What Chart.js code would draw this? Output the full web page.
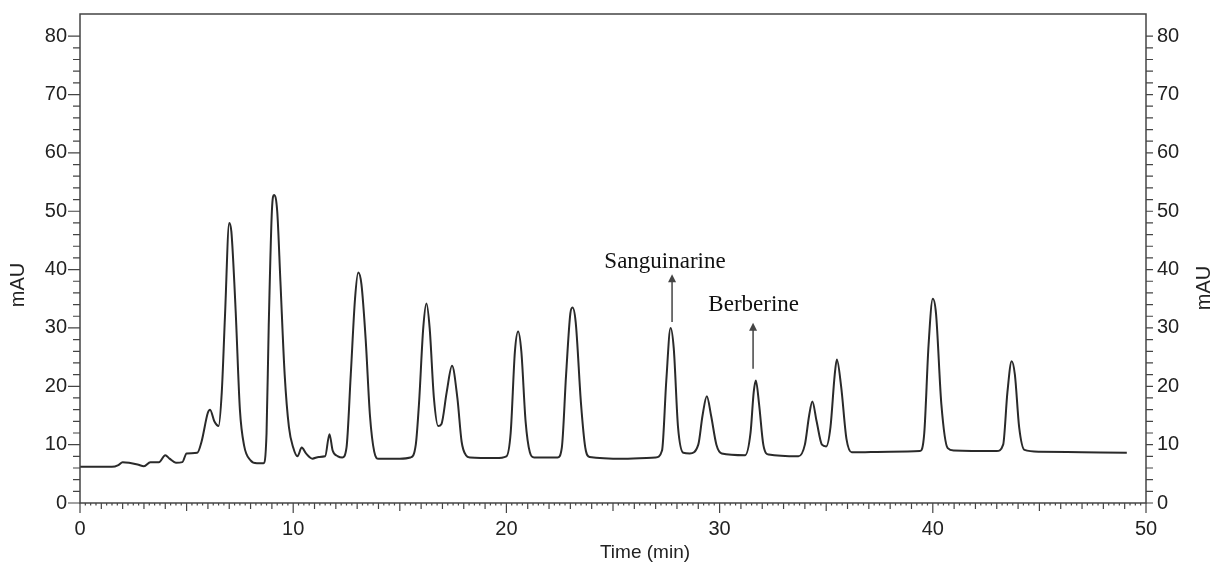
<!DOCTYPE html>
<html>
<head>
<meta charset="utf-8">
<script src="https://cdn.jsdelivr.net/npm/chart.js@4"></script>
<style>
  html, body { margin: 0; padding: 0; background: #fff; }
  canvas { display: block; }
</style>
</head>
<body>
<canvas id="crom" width="1213" height="565"></canvas>
<script>
const times = [
  0, 1.5, 1.8, 2.0, 2.3, 2.7, 3.0, 3.3, 3.7, 4.0, 4.2, 4.5, 4.8, 5.0, 5.5, 5.7, 6.0, 6.1, 6.3, 6.5,
  6.65, 6.8, 7.0, 7.1, 7.3, 7.5, 7.7, 8.0, 8.3, 8.6, 8.75, 8.85, 9.0, 9.1, 9.25, 9.4, 9.6, 9.8, 10.0,
  10.2, 10.4, 10.6, 10.9, 11.2, 11.5, 11.7, 11.85, 12.1, 12.3, 12.5, 12.7, 12.9, 13.05, 13.2, 13.4,
  13.6, 13.8, 14.0, 15.0, 15.5, 15.75, 15.9, 16.1, 16.25, 16.4, 16.6, 16.8, 16.95, 17.2, 17.45, 17.7,
  17.9, 18.1, 18.3, 19.5, 20.0, 20.2, 20.4, 20.55, 20.7, 20.9, 21.1, 21.3, 22.4, 22.6, 22.8, 23.0,
  23.1, 23.25, 23.5, 23.7, 23.9, 25.5, 27.0, 27.3, 27.5, 27.7, 27.85, 28.05, 28.3, 28.6, 29.0, 29.2,
  29.4, 29.6, 29.85, 30.1, 31.2, 31.45, 31.6, 31.7, 31.85, 32.05, 32.3, 33.7, 34.0, 34.2, 34.35,
  34.55, 34.8, 35.0, 35.2, 35.4, 35.5, 35.7, 35.95, 36.2, 38.0, 39.4, 39.6, 39.8, 40.0, 40.15, 40.4,
  40.7, 41.0, 43.0, 43.3, 43.5, 43.7, 43.85, 44.05, 44.3, 45.0, 47.0, 49.1
];
const absorbance = [
  6.2, 6.2, 6.5, 7.0, 6.9, 6.6, 6.3, 7.0, 7.0, 8.2, 7.6, 6.9, 7.0, 8.5, 8.6, 10.5, 15.5, 16.0, 14.0, 13.2,
  19, 32, 48, 46.5, 33, 16, 9.8, 7.3, 6.8, 6.8, 12, 30, 50, 52.8, 50, 38, 22, 13, 9.5,
  8.0, 9.5, 8.5, 7.6, 7.9, 8.0, 11.8, 9.0, 8.0, 7.8, 9.5, 22, 35, 39.5, 37.5, 28,
  15, 8.8, 7.6, 7.6, 7.8, 10, 17, 30, 34.2, 30, 18, 13.2, 13.5, 19, 23.5, 18,
  10.5, 8.2, 7.8, 7.7, 8.0, 12, 26, 29.4, 26, 14, 8.7, 7.8, 7.8, 9.5, 22, 32.5,
  33.5, 31, 17, 9.5, 7.9, 7.6, 7.8, 9, 21, 30, 26.5, 13, 8.6, 8.5, 10, 15,
  18.3, 15, 10, 8.5, 8.2, 12, 19, 21, 17, 10, 8.3, 8.0, 10, 15, 17.4,
  14, 10, 9.7, 13, 22, 24.6, 20, 11, 8.7, 8.8, 8.9, 12, 27, 35, 32.5, 17,
  9.4, 9.0, 8.9, 10, 19, 24.3, 22, 13, 9.1, 8.8, 8.7, 8.6
];

// etiquetas de ejes
const xTicks = [0, 10, 20, 30, 40, 50];
const yTicks = [0, 10, 20, 30, 40, 50, 60, 70, 80];

// anotaciones: texto, posición de la flecha (x, y base, y punta), posición del texto
const labelNames = ['Sanguinarine', 'Berberine'];
const arrowX = [27.77, 31.57];
const arrowFrom = [31.0, 23.0];
const arrowTo = [39.2, 30.9];
const labelX = [27.44, 31.6];
const labelY = [40.3, 32.9];

const ink = '#222';

const marcoPlugin = {
  id: 'marco',
  afterDraw(chart) {
    const ctx = chart.ctx;
    const a = chart.chartArea;
    const sx = chart.scales.x;
    const sy = chart.scales.y;
    ctx.save();
    // marco
    ctx.strokeStyle = '#444';
    ctx.lineWidth = 1.5;
    ctx.strokeRect(a.left, a.top, a.right - a.left, a.bottom - a.top);

    // marcas del eje x
    ctx.lineWidth = 1.2;
    ctx.beginPath();
    for (let i = 0; i <= 200; i++) {
      const t = i / 4;
      const px = sx.getPixelForValue(t);
      let len = 2.5;
      if (i % 40 === 0) len = 10;
      else if (i % 20 === 0) len = 8;
      else if (i % 4 === 0) len = 6;
      ctx.moveTo(px, a.bottom);
      ctx.lineTo(px, a.bottom + len);
    }
    // marcas de los ejes y
    for (let v = 0; v <= 80; v += 2) {
      const py = sy.getPixelForValue(v);
      const len = v % 10 === 0 ? 12 : 7;
      ctx.moveTo(a.left, py);
      ctx.lineTo(a.left - len, py);
      ctx.moveTo(a.right, py);
      ctx.lineTo(a.right + 7, py);
    }
    ctx.stroke();

    // títulos de los ejes
    ctx.fillStyle = ink;
    ctx.font = '20px "Liberation Sans", Arial, sans-serif';
    ctx.textAlign = 'center';
    ctx.textBaseline = 'middle';
    ctx.save();
    ctx.translate(18, 285);
    ctx.rotate(-Math.PI / 2);
    ctx.fillText('mAU', 0, 0);
    ctx.restore();
    ctx.save();
    ctx.translate(1204, 288);
    ctx.rotate(-Math.PI / 2);
    ctx.fillText('mAU', 0, 0);
    ctx.restore();
    ctx.font = '19px "Liberation Sans", Arial, sans-serif';
    ctx.fillText('Time (min)', 645, 553);

    // flechas y nombres de compuestos
    ctx.strokeStyle = '#444';
    ctx.fillStyle = '#444';
    ctx.lineWidth = 1.5;
    for (let k = 0; k < labelNames.length; k++) {
      const ax = sx.getPixelForValue(arrowX[k]);
      const y0 = sy.getPixelForValue(arrowFrom[k]);
      const y1 = sy.getPixelForValue(arrowTo[k]);
      ctx.beginPath();
      ctx.moveTo(ax, y0);
      ctx.lineTo(ax, y1 + 6);
      ctx.stroke();
      ctx.beginPath();
      ctx.moveTo(ax, y1);
      ctx.lineTo(ax - 4, y1 + 8);
      ctx.lineTo(ax + 4, y1 + 8);
      ctx.closePath();
      ctx.fill();
    }
    ctx.fillStyle = '#111';
    ctx.font = '23px "Liberation Serif", "Times New Roman", serif';
    ctx.textBaseline = 'alphabetic';
    for (let k = 0; k < labelNames.length; k++) {
      ctx.fillText(labelNames[k], sx.getPixelForValue(labelX[k]), sy.getPixelForValue(labelY[k]));
    }
    ctx.restore();
  }
};

const tickFont = { family: '"Liberation Sans", Arial, sans-serif', size: 20 };

const puntos = times.map((t, i) => ({ x: t, y: absorbance[i] }));

function fijarAncho(w) {
  return s => { s.width = w; s.paddingTop = 0; s.paddingBottom = 0; };
}

new Chart(document.getElementById('crom').getContext('2d'), {
  type: 'line',
  data: {
    datasets: [{
      data: puntos,
      borderColor: '#2a2a2a',
      borderWidth: 2,
      pointRadius: 0,
      fill: false,
      cubicInterpolationMode: 'monotone'
    }]
  },
  options: {
    responsive: false,
    animation: false,
    layout: { padding: { top: 14, left: 0, right: 0, bottom: 0 } },
    plugins: { legend: { display: false }, tooltip: { enabled: false } },
    scales: {
      x: {
        type: 'linear',
        min: 0,
        max: 50,
        grid: { display: false, drawTicks: false },
        border: { display: false },
        afterBuildTicks: s => { s.ticks = xTicks.map(v => ({ value: v })); },
        afterFit: s => { s.height = 62; s.paddingLeft = 0; s.paddingRight = 0; },
        ticks: { font: tickFont, color: ink, padding: 14, maxRotation: 0 }
      },
      y: {
        position: 'left',
        min: 0,
        max: 83.8,
        grid: { display: false, drawTicks: false },
        border: { display: false },
        afterBuildTicks: s => { s.ticks = yTicks.map(v => ({ value: v })); },
        afterFit: fijarAncho(80),
        ticks: { font: tickFont, color: ink, padding: 13 }
      },
      y2: {
        position: 'right',
        min: 0,
        max: 83.8,
        grid: { display: false, drawTicks: false },
        border: { display: false },
        afterBuildTicks: s => { s.ticks = yTicks.map(v => ({ value: v })); },
        afterFit: fijarAncho(67),
        ticks: { font: tickFont, color: ink, padding: 11 }
      }
    }
  },
  plugins: [marcoPlugin]
});
</script>
</body>
</html>
